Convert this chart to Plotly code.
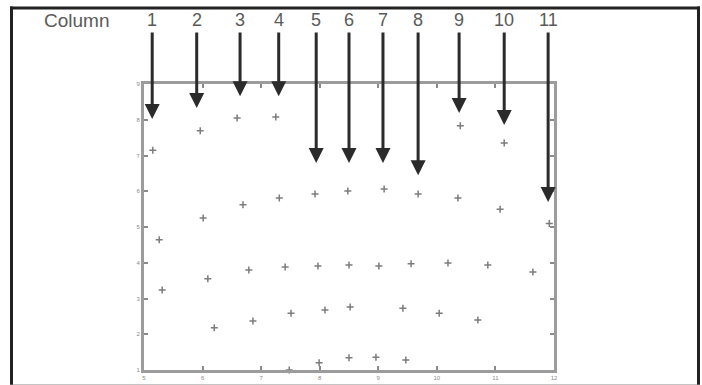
import plotly.graph_objects as go

# ---- data ----
col_labels = ["1", "2", "3", "4", "5", "6", "7", "8", "9", "10", "11"]
col_x = [5.14, 5.90, 6.64, 7.30, 7.94, 8.50, 9.08, 9.68, 10.38, 11.15, 11.90]
col_tip_y = [8.02, 8.33, 8.66, 8.66, 6.79, 6.79, 6.79, 6.45, 8.19, 7.85, 5.70]
arrow_tail_y = 10.48

pts_x = [5.15, 5.96, 6.59, 7.25, 10.40, 11.15,
         7.92, 8.48, 9.10, 9.68, 7.31, 6.69, 6.01, 10.36, 11.08, 11.92,
         5.26, 5.31, 6.09, 6.79, 7.41, 7.97, 8.50, 9.01, 9.56, 10.19, 10.87, 11.64,
         6.20, 6.86, 7.51, 8.09, 8.52, 9.42, 10.04, 10.70,
         7.48, 7.99, 8.50, 8.96, 9.47]
pts_y = [7.15, 7.69, 8.05, 8.08, 7.83, 7.35,
         5.92, 6.01, 6.06, 5.92, 5.81, 5.62, 5.25, 5.81, 5.50, 5.10,
         4.64, 3.24, 3.55, 3.80, 3.88, 3.91, 3.94, 3.91, 3.97, 3.99, 3.94, 3.74,
         2.18, 2.37, 2.59, 2.68, 2.76, 2.73, 2.59, 2.40,
         1.00, 1.20, 1.34, 1.36, 1.28]

x_ticks = [5, 6, 7, 8, 9, 10, 11, 12]
y_ticks = [1, 2, 3, 4, 5, 6, 7, 8, 9]

# ---- layout geometry (pixels) ----
YS = 393 / 385  # vertical compensation for the capture
W, H = 702, round(385 * YS)
L, R, T, B = 144, 554, 82 * YS, 368 * YS


def px_x(p):
    return (p - L) / (R - L)


def px_y(p):
    return (B - p * YS) / (B - T)


fig = go.Figure()
fig.add_trace(go.Scatter(
    x=pts_x, y=pts_y, mode="markers",
    marker=dict(symbol="cross-thin", size=5, line=dict(width=1.5, color="#7c7c7c")),
    cliponaxis=False, showlegend=False, hoverinfo="skip"))

label_font = dict(family="Liberation Sans, Arial", size=18, color="#5a5a5a")
annotations = []
for lab, cx, ty in zip(col_labels, col_x, col_tip_y):
    annotations.append(dict(
        x=cx, y=ty, xref="x", yref="y", ax=cx, ay=arrow_tail_y, axref="x", ayref="y",
        text="", showarrow=True, arrowhead=2, arrowsize=1, arrowwidth=3,
        arrowcolor="#2b2b2b", standoff=0))
    annotations.append(dict(
        x=(cx - 5) / 7, y=px_y(18), xref="paper", yref="paper",
        text=lab, showarrow=False, font=label_font,
        xanchor="center", yanchor="middle"))
annotations.append(dict(
    x=px_x(76), y=px_y(18), xref="paper", yref="paper", text="Column", showarrow=False,
    font=dict(family="Liberation Sans, Arial", size=19, color="#5a5a5a"),
    xanchor="center", yanchor="middle"))

shapes = [
    dict(type="line", xref="paper", yref="paper", x0=px_x(11.5), x1=px_x(11.5),
         y0=px_y(4.5), y1=px_y(384), line=dict(color="#222222", width=3)),
    dict(type="line", xref="paper", yref="paper", x0=px_x(10), x1=px_x(700),
         y0=px_y(6), y1=px_y(6), line=dict(color="#222222", width=3)),
    dict(type="line", xref="paper", yref="paper", x0=px_x(698.5), x1=px_x(698.5),
         y0=px_y(4.5), y1=px_y(385), line=dict(color="#222222", width=3)),
    dict(type="line", xref="paper", yref="paper", x0=px_x(10), x1=px_x(700),
         y0=px_y(383.5), y1=px_y(383.5), line=dict(color="#8a8a8a", width=2)),
]

axis_common = dict(showline=True, linewidth=3, linecolor="#9c9c9c", mirror="allticks",
                   ticks="inside", ticklen=4, tickwidth=1.5, tickcolor="#8a8a8a",
                   showgrid=False, zeroline=False,
                   tickfont=dict(family="Liberation Sans, Arial", size=6, color="#8a8a8a"))

fig.update_layout(
    width=W, height=H,
    margin=dict(l=L, r=W - R, t=T, b=H - B, pad=0),
    paper_bgcolor="white", plot_bgcolor="white",
    xaxis=dict(range=[5, 12], tickvals=x_ticks, **axis_common),
    yaxis=dict(range=[1, 9], tickvals=y_ticks, **axis_common),
    annotations=annotations, shapes=shapes, showlegend=False)

fig.write_html("out.html", config={"displayModeBar": False},
               post_script="document.body.style.margin='0';")
